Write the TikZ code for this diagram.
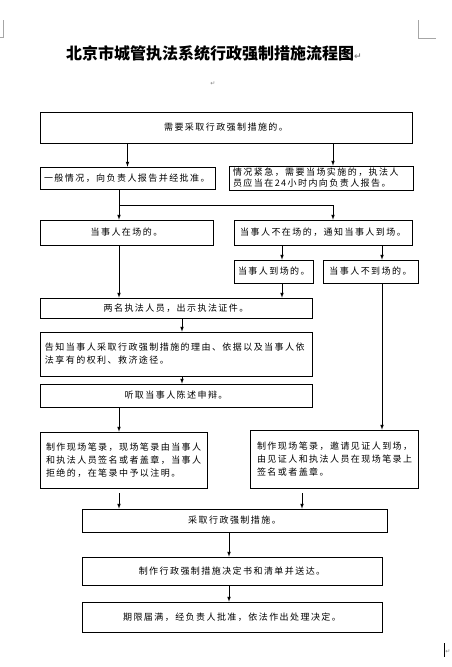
\documentclass[tikz,border=0pt]{standalone}
\usepackage{fontspec}
\usepackage{tikz}
\newfontfamily\titlefont{Noto Sans CJK SC}
\newfontfamily\bodyfont[LetterSpace=16]{Noto Sans CJK SC}
\newfontfamily\markfont{DejaVu Sans}
\newcommand{\pmark}[1]{{\markfont\color{gray}\fontsize{#1}{#1}\selectfont ↵}}

\begin{document}
\begin{tikzpicture}[>=latex, x=1pt, y=-1pt,
  box/.style={draw, line width=0.7pt, inner xsep=4pt, inner ysep=0pt,
              font={\bodyfont\fontsize{9pt}{13pt}\selectfont}, align=center},
  lbox/.style={box, align=left},
  link/.style={->, line width=0.7pt}]
\useasboundingbox (0,0) rectangle (451,667);
%page corners
\draw[gray!70, line width=0.6pt] (3,20) -- (3,37) -- (0,37);
\draw[gray!70, line width=0.6pt] (418,20) -- (418,38) -- (436,38);
\draw[line width=0.8pt] (444,643) -- (444,657);
\node (endmark) at (448,652) {\pmark{6pt}};
%title
\node (title) at (214,53) {\titlefont\bfseries\fontsize{16pt}{16pt}\selectfont 北京市城管执法系统行政强制措施流程图\pmark{9pt}};
\node (blank) at (213,84) {\pmark{6pt}};
%top box
\node[box, text width=364pt, minimum height=31pt] (need) at (226,127.5) {需要采取行政强制措施的。};
%two cases
\node[lbox, text width=167pt, minimum height=22pt] (yiban) at (127.5,178) {一般情况，向负责人报告并经批准。};
\node[lbox, text width=176pt, minimum height=24pt, font={\bodyfont\fontsize{9pt}{11pt}\selectfont}] (jinji) at (321,178)
  {情况紧急，需要当场实施的，执法人\\员应当在24小时内向负责人报告。};
%present or not
\node[box, text width=165pt, minimum height=25pt] (zaichang) at (126.5,232.5) {当事人在场的。};
\node[box, text width=170pt, minimum height=25pt] (buzai) at (323,232.5) {当事人不在场的，通知当事人到场。};
\node[box, text width=71pt, minimum height=23pt] (daochang) at (273.5,271.5) {当事人到场的。};
\node[box, text width=87pt, minimum height=23pt] (budao) at (370.5,271.5) {当事人不到场的。};
%left column
\node[box, text width=264pt, minimum height=20pt] (chushi) at (176,308) {两名执法人员，出示执法证件。};
\node[lbox, text width=262pt, inner xsep=5pt, minimum height=44pt] (gaozhi) at (176,354)
  {告知当事人采取行政强制措施的理由、依据以及当事人依\\法享有的权利、救济途径。};
\node[box, text width=264pt, minimum height=23pt] (tingqu) at (176,395.5) {听取当事人陈述申辩。};
%records
\node[lbox, text width=155pt, inner xsep=6pt, minimum height=56pt] (biluL) at (123.5,460)
  {制作现场笔录，现场笔录由当事人\\和执法人员签名或者盖章，当事人\\拒绝的，在笔录中予以注明。};
\node[lbox, text width=154pt, inner xsep=7pt, minimum height=58pt] (biluR) at (334,459)
  {制作现场笔录，邀请见证人到场，\\由见证人和执法人员在现场笔录上\\签名或者盖章。};
%bottom boxes
\node[box, text width=297pt, minimum height=23pt] (caiqu) at (234.5,520.5) {采取行政强制措施。};
\node[box, text width=292pt, minimum height=28pt] (jueding) at (232,571) {制作行政强制措施决定书和清单并送达。};
\node[box, text width=292pt, minimum height=30pt] (chuli) at (232,617) {期限届满，经负责人批准，依法作出处理决定。};

%link columns
\coordinate (split) at (119,205);
\coordinate (splitR) at (333,205);
\coordinate (xc) at (282,0);
\coordinate (xd) at (382,0);
\coordinate (xe) at (182,0);
\coordinate (xf) at (302,0);
\coordinate (xg) at (229,0);
%links
\draw[link] (need.south -| yiban.north) -- (yiban.north);
\draw[link] (need.south -| splitR) -- (jinji.north -| splitR);
\draw[line width=0.7pt] (yiban.south -| split) -- (split) -- (splitR);
\draw[link] (split) -- (zaichang.north -| split);
\draw[link] (splitR) -- (buzai.north -| splitR);
\draw[link] (buzai.south -| xc) -- (daochang.north -| xc);
\draw[link] (buzai.south -| xd) -- (budao.north -| xd);
\draw[link] (zaichang.south -| split) -- (chushi.north -| split);
\draw[link] (daochang.south -| xc) -- (chushi.north -| xc);
\draw[link] (budao.south -| xd) -- (biluR.north -| xd);
\draw[link] (chushi.south -| xe) -- (gaozhi.north -| xe);
\draw[link] (gaozhi.south -| xe) -- (tingqu.north -| xe);
\draw[link] (tingqu.south -| split) -- (biluL.north -| split);
\draw[link, shorten <=5pt] (biluL.south -| split) -- (caiqu.north -| split);
\draw[link, shorten <=5pt] (biluR.south -| xf) -- (caiqu.north -| xf);
\draw[link] (caiqu.south -| xg) -- (jueding.north -| xg);
\draw[link] (jueding.south -| xg) -- (chuli.north -| xg);
\end{tikzpicture}
\end{document}
